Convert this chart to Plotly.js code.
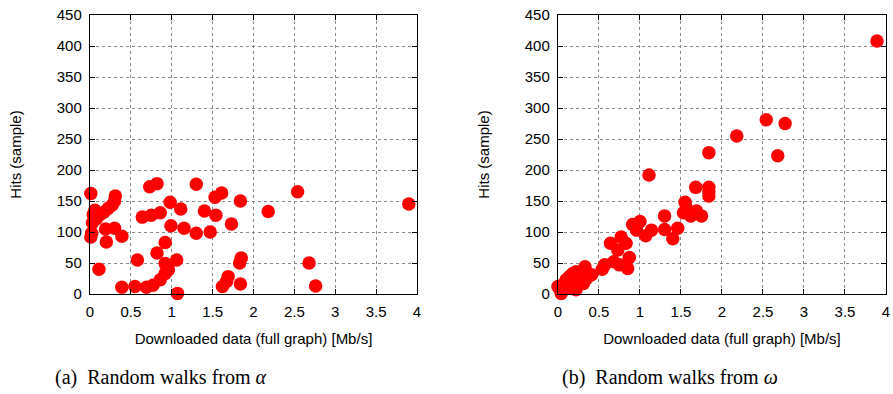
<!DOCTYPE html>
<html>
<head>
<meta charset="utf-8">
<script src="https://cdn.plot.ly/plotly-3.0.1.min.js"></script>
<style>html,body{margin:0;padding:0;background:#fff;}#chart{width:893px;height:394px;}</style>
</head>
<body>
<div id="chart"></div>
<script>
// (a) Random walks from alpha
const alphaX = [0.01,0.04,0.06,0.08,0.12,0.17,0.22,0.27,0.30,0.31,0.03,0.02,0.01,0.19,0.30,0.39,0.20,0.11,
  0.39,0.55,0.69,0.77,0.86,0.92,0.96,0.92,0.82,0.92,1.06,1.07,0.58,0.64,0.75,0.86,0.73,0.82,0.98,1.11,0.99,1.15,
  1.30,1.30,1.40,1.47,1.54,1.53,1.61,1.73,1.84,2.18,1.62,1.69,1.67,1.84,1.85,1.83,2.54,2.68,2.76,3.90];
const alphaY = [162,128,135,122,128,132,138,143,150,158,115,98,92,105,106,93,84,40,
  11,12,11,14,23,33,39,49,66,83,55,1,55,124,127,131,173,178,148,137,110,106,
  177,98,134,100,127,156,163,113,150,133,12,28,20,16,58,50,165,50,13,145];
// (b) Random walks from omega
const omegaX = [3.89,2.54,2.77,2.68,2.18,1.84,1.11,1.68,1.84,1.84,1.84,1.55,1.57,1.53,1.62,1.69,1.75,1.30,1.30,1.40,1.46,
  1.00,0.91,0.96,1.07,1.14,0.77,0.83,0.64,0.73,0.87,0.85,0.75,0.68,0.57,0.54,0.33,0.41,0.35,0.31,0.22,0.18,0.14,0.10,
  0.06,0.02,0.00,0.04,0.18,0.26,0.22,0.10,0.16];
const omegaY = [408,281,275,223,255,228,192,172,172,165,158,148,138,131,126,134,126,126,104,89,106,
  117,112,103,94,103,92,82,82,71,59,41,47,52,47,40,44,31,25,17,7,33,28,23,
  15,9,12,1,20,28,36,12,9];

const xTicks = [0,0.5,1,1.5,2,2.5,3,3.5,4];
const xTickText = ['0','0.5','1','1.5','2','2.5','3','3.5','4'];
const yTicks = [0,50,100,150,200,250,300,350,400,450];

const xTitle = 'Downloaded data (full graph) [Mb/s]';
const yTitle = 'Hits (sample)';
const captions = ['(a)  Random walks from <i>α</i>', '(b)  Random walks from <i>ω</i>'];

const tickFont = {family: 'Liberation Sans, Arial, sans-serif', size: 15, color: '#000'};
const marker = {color: '#ff0000', size: 13.5, line: {width: 0}};

function xax(domain, anchor) {
  return {domain: domain, anchor: anchor, range: [0, 4], tickvals: xTicks, ticktext: xTickText,
    showline: true, linecolor: '#000', linewidth: 1.2, mirror: 'ticks', ticks: 'inside', ticklen: 5,
    tickcolor: '#000', showgrid: true, gridcolor: '#888', griddash: 'dot', gridwidth: 1,
    zeroline: false, tickfont: tickFont, ticklabelstandoff: 4,
    title: {text: xTitle, font: tickFont, standoff: 14}};
}
function yax(anchor) {
  return {domain: [0, 1], anchor: anchor, range: [0, 450], tickvals: yTicks,
    showline: true, linecolor: '#000', linewidth: 1.2, mirror: 'ticks', ticks: 'inside', ticklen: 5,
    tickcolor: '#000', showgrid: true, gridcolor: '#888', griddash: 'dot', gridwidth: 1,
    zeroline: false, tickfont: tickFont, ticklabelstandoff: 4,
    title: {text: yTitle, font: tickFont, standoff: 31}};
}

const data = [
  {x: alphaX, y: alphaY, type: 'scatter', mode: 'markers', marker: marker, xaxis: 'x', yaxis: 'y', cliponaxis: false},
  {x: omegaX, y: omegaY, type: 'scatter', mode: 'markers', marker: marker, xaxis: 'x2', yaxis: 'y2', cliponaxis: false}
];

const layout = {
  width: 893, height: 394,
  margin: {l: 90, r: 7, t: 15, b: 100},
  paper_bgcolor: '#fff', plot_bgcolor: '#fff',
  showlegend: false,
  xaxis: xax([0, 0.4108], 'y'),
  yaxis: yax('x'),
  xaxis2: xax([0.5879, 1], 'y2'),
  yaxis2: yax('x2'),
  annotations: [
    {text: captions[0], xref: 'paper', yref: 'paper', x: (161-90)/796, y: (294-377)/279, xanchor: 'center', yanchor: 'middle',
     showarrow: false, font: {family: 'Liberation Serif, Times New Roman, serif', size: 20, color: '#000'}},
    {text: captions[1], xref: 'paper', yref: 'paper', x: (670-90)/796, y: (294-377)/279, xanchor: 'center', yanchor: 'middle',
     showarrow: false, font: {family: 'Liberation Serif, Times New Roman, serif', size: 20, color: '#000'}}
  ]
};

Plotly.newPlot('chart', data, layout, {displayModeBar: false, staticPlot: true});
</script>
</body>
</html>
